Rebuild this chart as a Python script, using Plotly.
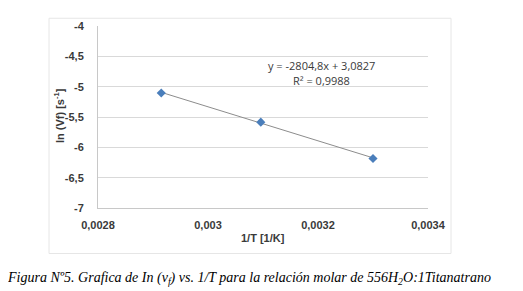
import plotly.graph_objects as go

# Data
inv_T = [0.002915, 0.003096, 0.003300]
ln_vf = [-5.105, -5.585, -6.185]
slope = -2804.8
intercept = 3.0827
eq_text = "y = -2804,8x + 3,0827"
r2_text = "R² = 0,9988"

x_tickvals = [0.0028, 0.0030, 0.0032, 0.0034]
x_ticktext = ["0,0028", "0,003", "0,0032", "0,0034"]
y_tickvals = [-4, -4.5, -5, -5.5, -6, -6.5, -7]
y_ticktext = ["-4", "-4,5", "-5", "-5,5", "-6", "-6,5", "-7"]

x_title = "1/T [1/K]"
y_title = "ln (Vf) [s<sup>-1</sup>]"
caption = ("Figura Nº5. Grafica de In (v<sub>f</sub>) vs. 1/T para la relación molar de "
           "556H<sub>2</sub>O:1Titanatrano")

trend_x = [min(inv_T), max(inv_T)]
trend_y = [slope * v + intercept for v in trend_x]

BOLD = "'Liberation Sans', Arial, sans-serif"
REG = "'Open Sans', 'Liberation Sans', sans-serif"
TXT = "#3a3a3a"

fig = go.Figure()
fig.add_trace(go.Scatter(x=trend_x, y=trend_y, mode="lines",
                         line=dict(color="#8c8c8c", width=1), hoverinfo="skip"))
fig.add_trace(go.Scatter(x=inv_T, y=ln_vf, mode="markers",
                         marker=dict(symbol="diamond", size=7, color="#4a7ebb")))

OFF = 8  # browser body margin
W, H = 523 - OFF, 291 - OFF
L, R, T, B = 98 - OFF, 95, 20 - OFF, 83
pw, ph = W - L - R, H - T - B

def px_x(p):
    return (p - OFF - L) / pw

def px_y(p):
    return (H - B - (p - OFF)) / ph

fig.update_layout(
    width=W, height=H,
    margin=dict(l=L, r=R, t=T, b=B),
    paper_bgcolor="white", plot_bgcolor="white",
    showlegend=False,
    font=dict(family=REG, color=TXT, size=10),
    xaxis=dict(range=[0.0028, 0.0034], tickvals=x_tickvals,
               ticktext=["<b>" + t + "</b>" for t in x_ticktext],
               showgrid=False, zeroline=False, showline=True, linecolor="#c8c8c8",
               linewidth=1, ticks="", ticklabelstandoff=7,
               tickfont=dict(family=BOLD, size=11, color=TXT)),
    yaxis=dict(range=[-7, -4], tickvals=y_tickvals,
               ticktext=["<b>" + t + "</b>" for t in y_ticktext],
               showgrid=True, gridcolor="#d9d9d9", gridwidth=1, zeroline=False,
               showline=True, linecolor="#c8c8c8", linewidth=1, ticks="",
               ticklabelstandoff=11,
               tickfont=dict(family=BOLD, size=11, color=TXT)),
    shapes=[dict(type="rect", xref="paper", yref="paper",
                 x0=px_x(49), x1=px_x(451), y0=px_y(255), y1=px_y(12),
                 line=dict(color="#e6e6e6", width=1), fillcolor="rgba(0,0,0,0)",
                 layer="below")],
    annotations=[
        dict(text=eq_text, xref="paper", yref="paper", x=px_x(321), y=px_y(61),
             xanchor="center", yanchor="middle", showarrow=False,
             font=dict(family=REG, size=11, color=TXT)),
        dict(text=r2_text, xref="paper", yref="paper", x=px_x(321), y=px_y(76),
             xanchor="center", yanchor="middle", showarrow=False,
             font=dict(family=REG, size=11, color=TXT)),
        dict(text="<b>" + x_title + "</b>", xref="paper", yref="paper",
             x=px_x(263), y=px_y(239), xanchor="center", yanchor="middle",
             showarrow=False,
             font=dict(family=BOLD, size=11, color=TXT)),
        dict(text="<b>" + y_title + "</b>", xref="paper", yref="paper",
             x=px_x(59), y=px_y(113), xanchor="center", yanchor="middle",
             showarrow=False, textangle=-90,
             font=dict(family=BOLD, size=11, color=TXT)),
        dict(text=caption, xref="paper", yref="paper",
             x=px_x(249), y=px_y(281), xanchor="center", yanchor="middle",
             showarrow=False,
             font=dict(family="'Liberation Serif', serif", size=14, color="#000000",
                       style="italic")),
    ],
)

fig.write_html("out.html")
